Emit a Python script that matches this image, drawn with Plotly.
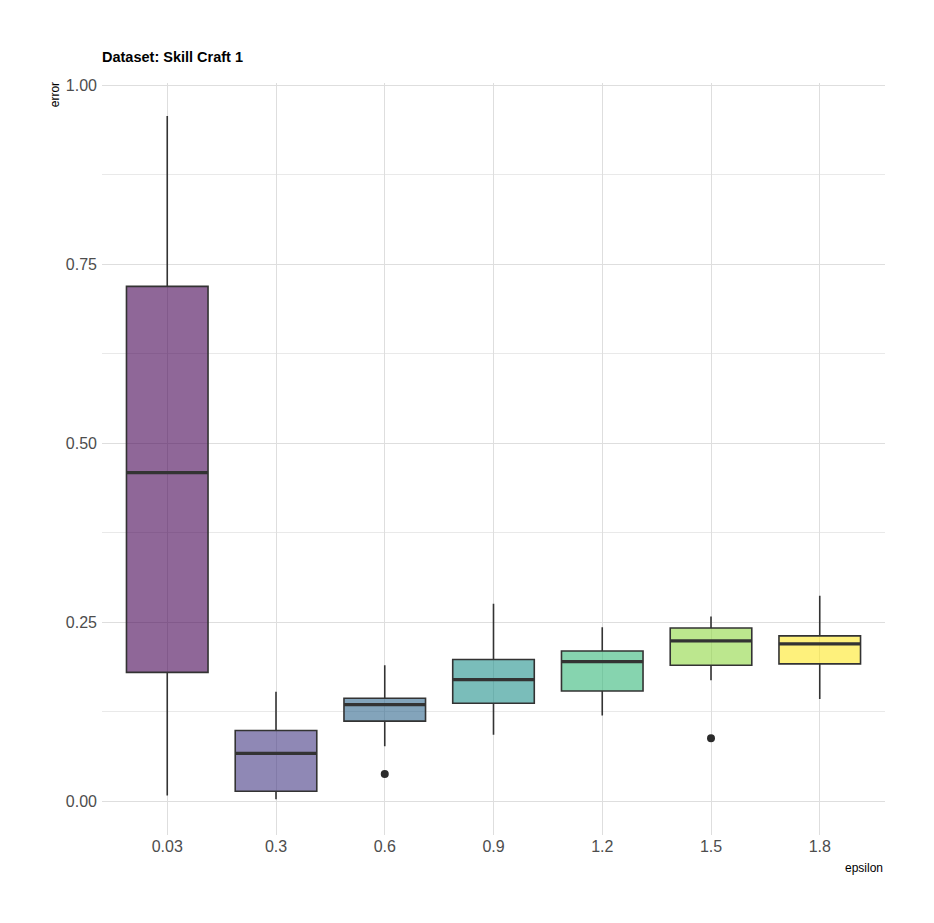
import plotly.graph_objects as go

# values
epsilon = ["0.03", "0.3", "0.6", "0.9", "1.2", "1.5", "1.8"]
lower = [0.008, 0.003, 0.077, 0.093, 0.120, 0.169, 0.143]
q1 = [0.180, 0.014, 0.112, 0.137, 0.154, 0.190, 0.192]
median = [0.459, 0.067, 0.135, 0.170, 0.195, 0.224, 0.220]
q3 = [0.719, 0.099, 0.144, 0.198, 0.210, 0.242, 0.231]
upper = [0.957, 0.153, 0.190, 0.276, 0.243, 0.258, 0.287]
outlier_x = ["0.6", "1.5"]
outlier_y = [0.038, 0.088]

fills = ["rgba(68,1,84,0.6)", "rgba(68,57,131,0.6)", "rgba(49,104,142,0.6)",
         "rgba(33,145,140,0.6)", "rgba(53,183,121,0.6)", "rgba(144,215,67,0.6)",
         "rgba(253,231,37,0.6)"]
dark = "#333333"
box_w = 0.75

fig = go.Figure()
for i, eps in enumerate(epsilon):
    fig.add_trace(go.Box(
        x=[i], q1=[q1[i]], median=[median[i]], q3=[q3[i]],
        lowerfence=[lower[i]], upperfence=[upper[i]],
        width=box_w, whiskerwidth=0, fillcolor=fills[i],
        line=dict(color=dark, width=1.6), boxpoints=False,
        name=eps, showlegend=False, hoverinfo="skip"))
    # thicker median bar like ggplot
    fig.add_trace(go.Scatter(
        x=[i - box_w / 2, i + box_w / 2], y=[median[i], median[i]],
        mode="lines", line=dict(color=dark, width=3.2),
        showlegend=False, hoverinfo="skip"))

fig.add_trace(go.Scatter(
    x=[epsilon.index(e) for e in outlier_x], y=outlier_y, mode="markers",
    marker=dict(color="#2b2b2b", size=8), showlegend=False))

grid = "#dedede"
# page body has an 8px margin, so margins are shifted by that amount
fig.update_layout(
    width=934, height=923,
    plot_bgcolor="white", paper_bgcolor="white",
    margin=dict(l=94, r=57, t=75, b=96),
    font=dict(family="Liberation Sans, Arial, sans-serif", color="#4d4d4d"),
    title=dict(text="<b>Dataset: Skill Craft 1</b>", x=0, xref="paper",
               xanchor="left", yref="container", y=0.947, yanchor="middle",
               font=dict(size=14.5, color="black")),
    xaxis=dict(range=[-0.6, 6.6], tickmode="array",
               tickvals=list(range(len(epsilon))), ticktext=epsilon,
               showgrid=True, gridcolor=grid, gridwidth=1, zeroline=False,
               showline=False, ticks="", tickfont=dict(size=16, color="#4d4d4d")),
    yaxis=dict(range=[-0.047, 1.003], tickvals=[0, 0.25, 0.5, 0.75, 1.0],
               ticktext=["0.00", "0.25", "0.50", "0.75", "1.00"],
               showgrid=True, gridcolor=grid, gridwidth=1, zeroline=False,
               showline=False, ticks="", ticklabelstandoff=4,
               tickfont=dict(size=16, color="#4d4d4d"),
               minor=dict(tickvals=[0.125, 0.375, 0.625, 0.875],
                          showgrid=True, gridcolor="#e9e9e9", gridwidth=1)),
)

fig.add_annotation(text="error", textangle=-90, xref="paper", yref="paper",
                   x=-0.06, y=1.003, xanchor="center", yanchor="top",
                   showarrow=False, font=dict(size=12, color="black"))
fig.add_annotation(text="epsilon", xref="paper", yref="paper",
                   x=1.0, y=-0.032, xanchor="right", yanchor="top",
                   showarrow=False, font=dict(size=12, color="black"))

fig.write_html("out.html")
